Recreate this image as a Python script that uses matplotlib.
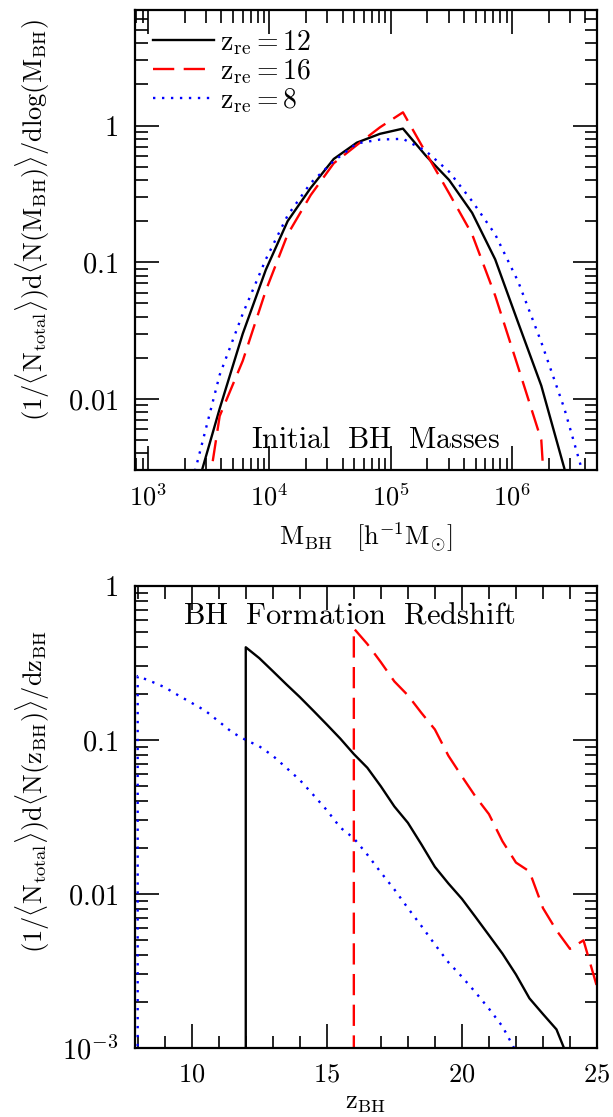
import numpy as np
import matplotlib
matplotlib.use("Agg")
import matplotlib.pyplot as plt
from matplotlib.ticker import FixedLocator, FixedFormatter, NullFormatter, MultipleLocator, LogLocator

plt.rcParams['mathtext.fontset'] = 'cm'
plt.rcParams['font.family'] = ['DejaVu Serif']

# ---------------- data: top panel (initial BH masses) ----------------
logM_bins = [3.21, 3.40, 3.59, 3.78, 3.97, 4.15, 4.34, 4.53, 4.72, 4.91, 5.10,
             5.29, 5.48, 5.67, 5.86, 6.05, 6.24, 6.43, 6.62]
mass_pdf_z12 = [0.0003, 0.0022, 0.0085, 0.030, 0.088, 0.20, 0.35, 0.57, 0.75, 0.87, 0.95,
                0.60, 0.40, 0.23, 0.105, 0.036, 0.0125, 0.0031, 0.0005]
mass_pdf_z16 = [0.0001, 0.0006, 0.0075, 0.019, 0.062, 0.16, 0.31, 0.53, 0.72, 0.97, 1.25,
                0.63, 0.32, 0.16, 0.057, 0.017, 0.005, 0.00001, 0.00001]
mass_pdf_z8 = [0.0008, 0.0033, 0.015, 0.042, 0.105, 0.22, 0.38, 0.55, 0.74, 0.79, 0.80,
               0.65, 0.46, 0.28, 0.16, 0.072, 0.026, 0.0085, 0.0022]

# ---------------- data: bottom panel (formation redshift) ----------------
z_bins_12 = [12.0, 12.0, 12.5, 13.0, 13.5, 14.0, 14.5, 15.0, 15.5, 16.0, 16.5, 17.0, 17.5,
             18.0, 18.5, 19.0, 19.5, 20.0, 20.5, 21.0, 21.5, 22.0, 22.5, 23.0, 23.5, 24.0]
z_pdf_12 = [1e-6, 0.40, 0.34, 0.28, 0.23, 0.19, 0.155, 0.126, 0.102, 0.081, 0.066, 0.050, 0.037,
            0.029, 0.021, 0.015, 0.0117, 0.0093, 0.0071, 0.0054, 0.0041, 0.0030, 0.0021,
            0.00166, 0.00132, 0.0008]

z_bins_16 = [16.0, 16.0, 16.5, 17.0, 17.5, 18.0, 18.5, 19.0, 19.5, 20.0, 20.5, 21.0, 21.5,
             22.0, 22.5, 23.0, 23.5, 24.0, 24.5, 25.0]
z_pdf_16 = [1e-6, 0.53, 0.42, 0.32, 0.24, 0.195, 0.15, 0.117, 0.079, 0.058, 0.043, 0.033, 0.022,
            0.016, 0.014, 0.0081, 0.0058, 0.0044, 0.0050, 0.0025]

z_bins_8 = [8.0, 8.0, 8.5, 9.0, 9.5, 10.0, 10.5, 11.0, 11.5, 12.0, 12.5, 13.0, 13.5, 14.0, 14.5,
            15.0, 15.5, 16.0, 16.5, 17.0, 17.5, 18.0, 18.5, 19.0, 19.5, 20.0, 20.5, 21.0,
            21.5, 22.0]
z_pdf_8 = [1e-6, 0.26, 0.24, 0.22, 0.195, 0.174, 0.155, 0.132, 0.112, 0.100, 0.091, 0.079,
           0.066, 0.055, 0.044, 0.035, 0.027, 0.023, 0.018, 0.0138, 0.0107, 0.0081, 0.0062,
           0.0047, 0.0036, 0.0029, 0.0023, 0.0018, 0.00138, 0.00095]

legend_labels = [r'$\mathrm{z_{re}=12}$', r'$\mathrm{z_{re}=16}$', r'$\mathrm{z_{re}=8}$']

top_xticks = [1e3, 1e4, 1e5, 1e6]
top_xticklabels = [r'$10^{3}$', r'$10^{4}$', r'$10^{5}$', r'$10^{6}$']
top_yticks = [0.01, 0.1, 1]
top_yticklabels = [r'$0.01$', r'$0.1$', r'$1$']
bot_xticks = [10, 15, 20, 25]
bot_xticklabels = [r'$10$', r'$15$', r'$20$', r'$25$']
bot_yticks = [1e-3, 0.01, 0.1, 1]
bot_yticklabels = [r'$10^{-3}$', r'$0.01$', r'$0.1$', r'$1$']

FS = 19
LW = 1.7

fig = plt.figure(figsize=(6.13, 11.17), dpi=100)
ax1 = fig.add_axes([0.2202, 0.5792, 0.7537, 0.4118])
ax2 = fig.add_axes([0.2202, 0.0618, 0.7537, 0.4136])

M = 10.0 ** np.array(logM_bins)
l1, = ax1.plot(M, mass_pdf_z12, color='black', lw=LW)
l2, = ax1.plot(M, mass_pdf_z16, color='red', lw=LW, dashes=(9, 4))
l3, = ax1.plot(M, mass_pdf_z8, color='blue', lw=LW, dashes=(1, 2.8))

ax2.plot(z_bins_12, z_pdf_12, color='black', lw=LW)
ax2.plot(z_bins_16, z_pdf_16, color='red', lw=LW, dashes=(9, 4))
ax2.plot(z_bins_8, z_pdf_8, color='blue', lw=LW, dashes=(1, 2.8))

ax1.set_xscale('log')
ax1.set_yscale('log')
ax1.set_xlim(780, 5e6)
ax1.set_ylim(10 ** -2.52, 7.0)
ax2.set_yscale('log')
ax2.set_xlim(7.9, 25)
ax2.set_ylim(1e-3, 1)

for ax in (ax1, ax2):
    for s in ax.spines.values():
        s.set_linewidth(1.6)
    ax.tick_params(which='both', direction='in', top=True, right=True, width=1.2)
    ax.tick_params(which='major', length=17, labelsize=FS)
    ax.tick_params(which='minor', length=9)
    ax.tick_params(axis='y', which='major', labelsize=20.5, pad=12)
    ax.tick_params(axis='x', which='major', pad=10)

ax1.xaxis.set_major_locator(FixedLocator(top_xticks))
ax1.xaxis.set_major_formatter(FixedFormatter(top_xticklabels))
ax1.xaxis.set_minor_locator(LogLocator(base=10, subs=np.arange(2, 10), numticks=20))
ax1.xaxis.set_minor_formatter(NullFormatter())
ax1.yaxis.set_major_locator(FixedLocator(top_yticks))
ax1.yaxis.set_major_formatter(FixedFormatter(top_yticklabels))
ax1.yaxis.set_minor_locator(LogLocator(base=10, subs=np.arange(2, 10), numticks=20))
ax1.yaxis.set_minor_formatter(NullFormatter())

ax2.xaxis.set_major_locator(FixedLocator(bot_xticks))
ax2.xaxis.set_major_formatter(FixedFormatter(bot_xticklabels))
ax2.xaxis.set_minor_locator(MultipleLocator(1))
ax2.yaxis.set_major_locator(FixedLocator(bot_yticks))
ax2.yaxis.set_major_formatter(FixedFormatter(bot_yticklabels))
ax2.yaxis.set_minor_locator(LogLocator(base=10, subs=np.arange(2, 10), numticks=20))
ax2.yaxis.set_minor_formatter(NullFormatter())

ax1.text(0.52, 0.065, r'$\mathrm{Initial\ \ BH\ \ Masses}$', transform=ax1.transAxes,
         ha='center', va='center', fontsize=21.5)
ax2.text(0.464, 0.937, r'$\mathrm{BH\ \ Formation\ \ Redshift}$', transform=ax2.transAxes,
         ha='center', va='center', fontsize=22)

ax1.text(0.5, -0.146, r'$\mathrm{M_{BH}\quad [h^{-1}M_{\odot}]}$', transform=ax1.transAxes,
         ha='center', va='center', fontsize=FS)
ax2.text(0.5, -0.118, r'$\mathrm{z_{BH}}$', transform=ax2.transAxes,
         ha='center', va='center', fontsize=FS)

ax1.text(-0.22, 0.543,
         r'$\mathrm{(1/\langle N_{total}\rangle)d\langle N(M_{BH})\rangle/dlog(M_{BH})}$',
         transform=ax1.transAxes, rotation=90, ha='center', va='center', fontsize=FS)
ax2.text(-0.22, 0.556,
         r'$\mathrm{(1/\langle N_{total}\rangle)d\langle N(z_{BH})\rangle/dz_{BH}}$',
         transform=ax2.transAxes, rotation=90, ha='center', va='center', fontsize=FS)

ax1.legend([l1, l2, l3], legend_labels, loc='upper left', frameon=False, fontsize=20,
           handlelength=2.2, handletextpad=0.2, labelspacing=0.0,
           borderaxespad=0.35, borderpad=0.3)

fig.savefig('out.png', dpi=100)
